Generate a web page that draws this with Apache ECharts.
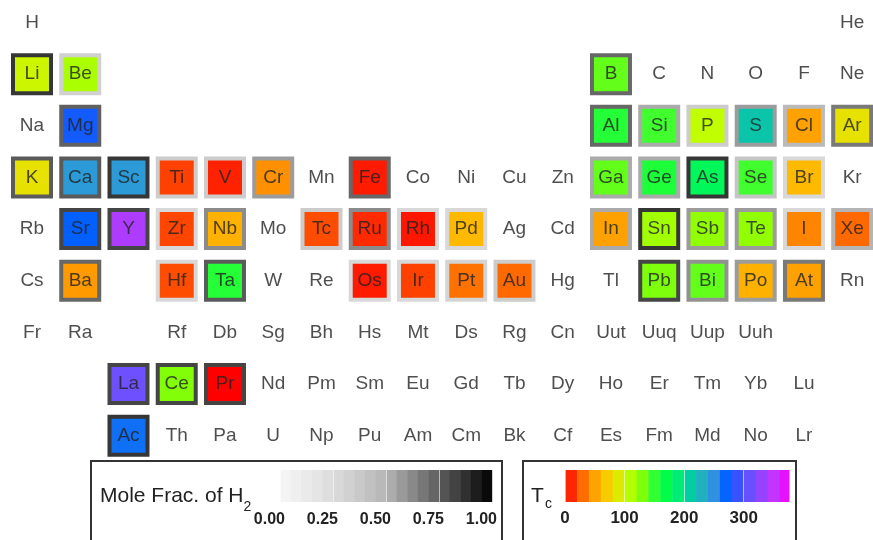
<!DOCTYPE html>
<html>
<head>
<meta charset="utf-8">
<script src="https://cdn.jsdelivr.net/npm/echarts@6/dist/echarts.min.js"></script>
<style>
    html, body {margin: 0; padding: 0; background: #fff;}
    #chart {width: 873px; height: 540px;}
</style>
</head>
<body>
<div id="chart"></div>
<script>
// periodic table layout, '.' = empty slot
const tableRows = [
    'H . . . . . . . . . . . . . . . . He',
    'Li Be . . . . . . . . . . B C N O F Ne',
    'Na Mg . . . . . . . . . . Al Si P S Cl Ar',
    'K Ca Sc Ti V Cr Mn Fe Co Ni Cu Zn Ga Ge As Se Br Kr',
    'Rb Sr Y Zr Nb Mo Tc Ru Rh Pd Ag Cd In Sn Sb Te I Xe',
    'Cs Ba . Hf Ta W Re Os Ir Pt Au Hg Tl Pb Bi Po At Rn',
    'Fr Ra . Rf Db Sg Bh Hs Mt Ds Rg Cn Uut Uuq Uup Uuh . .',
    '. . La Ce Pr Nd Pm Sm Eu Gd Tb Dy Ho Er Tm Yb Lu .',
    '. . Ac Th Pa U Np Pu Am Cm Bk Cf Es Fm Md No Lr .'
];

// elements with a hydride, their Tc and mole fraction of H2
const hydrideSymbols = ['Li','Be','Mg','K','Ca','Sc','Ti','V','Cr','Fe',
    'Sr','Y','Zr','Nb','Tc','Ru','Rh','Pd',
    'Ba','Hf','Ta','Os','Ir','Pt','Au',
    'B','Al','Si','P','S','Cl','Ar',
    'Ga','Ge','As','Se','Br',
    'In','Sn','Sb','Te','I','Xe',
    'Pb','Bi','Po','At',
    'La','Ce','Pr','Ac'];
const tcValues = [98,114,278,84,244,244,17,9,42,7,
    272,340,18,56,20,11,6,60,
    46,20,155,7,17,32,29,
    137,155,146,104,216,49,84,
    137,158,178,146,60,
    49,118,125,125,38,29,
    130,137,56,49,
    313,129,0,265];
const h2Fractions = [0.86,0.33,0.74,0.76,0.76,0.86,0.36,0.36,0.57,0.72,
    0.82,0.82,0.27,0.62,0.36,0.62,0.27,0.27,
    0.72,0.27,0.76,0.27,0.27,0.3,0.36,
    0.72,0.72,0.53,0.36,0.57,0.47,0.67,
    0.53,0.53,0.86,0.4,0.27,
    0.53,0.86,0.57,0.57,0.27,0.5,
    0.82,0.6,0.57,0.67,
    0.82,0.82,0.82,0.86];

// colour bar bands
const grayBandEdges = [0,0.05,0.1,0.15,0.2,0.25,0.3,0.35,0.4,0.45,0.5,0.55,0.6,0.65,0.7,0.75,0.8,0.85,0.9,0.95,1];
const tcBandEdges = [0,20,40,60,80,100,120,140,160,180,200,220,240,260,280,300,320,340,360,376];

const tcColors = ['#ff0000','#ff5000','#ff9000','#ffc000','#e8e000','#c0ff00','#90ff00','#40ff30','#00ff40',
    '#00f070','#00d0a0','#20b0c0','#3090e0','#0060ff','#4050ff','#7050ff','#a040ff','#d030ff','#f000ff'];
const grayColors = ['#f7f7f7','#e6e6e6','#d0d0d0','#b5b5b5','#7a7a7a','#404040','#000000'];

const FONT = '"Liberation Sans", Arial, Helvetica, sans-serif';

let labelData = [];
let posOf = {};
tableRows.forEach((line, r) => {
    line.split(' ').forEach((sym, c) => {
        if (sym === '.') return;
        posOf[sym] = [c + 1, r + 1];
        labelData.push({name: sym, value: [c + 1, r + 1]});
    });
});
const hydrideData = hydrideSymbols.map((s, i) => [posOf[s][0], posOf[s][1], tcValues[i], h2Fractions[i]]);

function bands(edges) {
    let out = [];
    for (let i = 0; i < edges.length - 1; i++) {
        out.push([edges[i], edges[i + 1], (edges[i] + edges[i + 1]) / 2]);
    }
    return out;
}

function renderBand(params, api) {
    const p0 = api.coord([api.value(0), 1]);
    const p1 = api.coord([api.value(1), 0]);
    return {
        type: 'rect',
        shape: {x: p0[0], y: p0[1], width: p1[0] - p0[0] + 0.5, height: p1[1] - p0[1]},
        style: {fill: api.visual('color')}
    };
}

const measure = document.createElement('canvas').getContext('2d');
measure.font = '21px ' + FONT;
const moleW = measure.measureText('Mole Frac. of H').width;

const myChart = echarts.init(document.getElementById('chart'));
myChart.setOption({
    animation: false,
    grid: [
        {left: 12.7, top: 1.84, width: 858.8, height: 454.5},
        {left: 280, top: 470, width: 212, height: 32},
        {left: 565, top: 470, width: 224, height: 32}
    ],
    xAxis: [
        {gridIndex: 0, type: 'value', min: 0.6, max: 18.4, show: false},
        {
            gridIndex: 1, type: 'value', min: 0, max: 1, interval: 0.25, z: 5,
            axisLine: {show: false},
            splitLine: {show: false},
            axisTick: {inside: true, length: 32, lineStyle: {color: 'rgba(255,255,255,0.6)'}},
            axisLabel: {
                formatter: v => v.toFixed(2),
                fontFamily: FONT, fontWeight: 'bold', fontSize: 16, color: '#222',
                align: 'right', padding: [0, -5, 0, 0], margin: 10
            }
        },
        {
            gridIndex: 2, type: 'value', min: 0, max: 376, interval: 100, z: 5,
            axisLine: {show: false},
            splitLine: {show: false},
            axisTick: {inside: true, length: 32, lineStyle: {color: 'rgba(255,255,255,0.6)'}},
            axisLabel: {
                fontFamily: FONT, fontWeight: 'bold', fontSize: 17, color: '#222',
                margin: 8, showMaxLabel: false
            }
        }
    ],
    yAxis: [
        {gridIndex: 0, type: 'value', inverse: true, min: 0.6, max: 9.4, show: false},
        {gridIndex: 1, type: 'value', min: 0, max: 1, show: false},
        {gridIndex: 2, type: 'value', min: 0, max: 1, show: false}
    ],
    visualMap: [
        {type: 'continuous', show: false, min: 0, max: 376, dimension: 2, seriesIndex: [2, 4], inRange: {color: tcColors}},
        {type: 'continuous', show: false, min: 0, max: 1, dimension: 3, seriesIndex: [1], inRange: {color: grayColors}},
        {type: 'continuous', show: false, min: 0, max: 1, dimension: 2, seriesIndex: [3], inRange: {color: grayColors}}
    ],
    series: [
        {
            type: 'scatter', xAxisIndex: 0, yAxisIndex: 0, silent: true, z: 10,
            symbolSize: 1, itemStyle: {color: 'transparent'},
            label: {show: true, position: 'inside', formatter: '{b}', fontFamily: FONT, fontSize: 19, color: '#222'},
            data: labelData
        },
        {
            type: 'scatter', xAxisIndex: 0, yAxisIndex: 0, silent: true, z: 2,
            symbol: 'rect', symbolSize: 42, itemStyle: {opacity: 1},
            data: hydrideData
        },
        {
            type: 'scatter', xAxisIndex: 0, yAxisIndex: 0, silent: true, z: 3,
            symbol: 'rect', symbolSize: 34, itemStyle: {opacity: 1},
            data: hydrideData
        },
        {
            type: 'custom', xAxisIndex: 1, yAxisIndex: 1, silent: true,
            renderItem: renderBand, encode: {x: [0, 1]},
            data: bands(grayBandEdges)
        },
        {
            type: 'custom', xAxisIndex: 2, yAxisIndex: 2, silent: true,
            renderItem: renderBand, encode: {x: [0, 1]},
            data: bands(tcBandEdges)
        }
    ],
    graphic: [
        {type: 'rect', shape: {x: 91, y: 461, width: 411, height: 100}, style: {fill: 'none', stroke: '#333', lineWidth: 2}},
        {type: 'rect', shape: {x: 523, y: 461, width: 273, height: 100}, style: {fill: 'none', stroke: '#333', lineWidth: 2}},
        {type: 'text', left: 100, top: 486, style: {text: 'Mole Frac. of H', font: '21px ' + FONT, fill: '#222'}},
        {type: 'text', left: 100 + moleW, top: 500, style: {text: '2', font: '14px ' + FONT, fill: '#222'}},
        {type: 'text', left: 531, top: 486, style: {text: 'T', font: '21px ' + FONT, fill: '#222'}},
        {type: 'text', left: 545, top: 497, style: {text: 'c', font: '14px ' + FONT, fill: '#222'}}
    ]
});
</script>
</body>
</html>
